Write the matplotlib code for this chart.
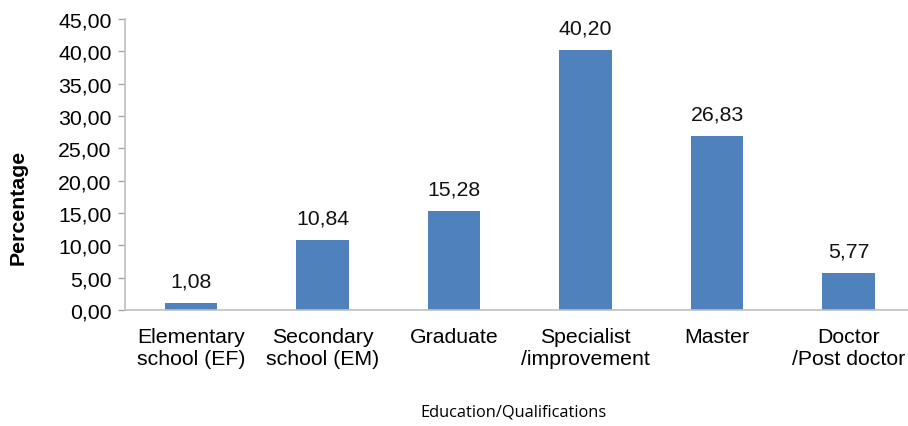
import matplotlib
matplotlib.use("Agg")
import matplotlib.pyplot as plt
from matplotlib.ticker import FuncFormatter

categories = ["Elementary\nschool (EF)", "Secondary\nschool (EM)", "Graduate",
              "Specialist\n/improvement", "Master", "Doctor\n/Post doctor"]
values = [1.08, 10.84, 15.28, 40.20, 26.83, 5.77]
yticks = [0, 5, 10, 15, 20, 25, 30, 35, 40, 45]

plt.rcParams['font.family'] = ['Liberation Sans', 'DejaVu Sans']
fs = 15.3
fig = plt.figure(figsize=(9.08, 4.27), dpi=100)
ax = fig.add_axes([0.138, 0.2717, 0.869, 0.6815])

x = list(range(len(categories)))
bars = ax.bar(x, values, width=0.4, color='#4f81bd', zorder=2)
for xi, v in zip(x, values):
    ax.annotate(f"{v:.2f}".replace('.', ','), (xi, v), xytext=(0, 9),
                textcoords='offset points', ha='center', va='bottom', fontsize=fs, color='#111111')

ax.set_xlim(-0.5, len(categories) - 0.5)
ax.set_ylim(0, 45)
ax.set_yticks(yticks)
ax.yaxis.set_major_formatter(FuncFormatter(lambda v, p: f"{v:.2f}".replace('.', ',')))
ax.set_xticks(x)
ax.set_xticklabels(categories, fontsize=fs, linespacing=1.16)
ax.tick_params(axis='y', labelsize=fs, length=5, color='#a6a6a6', width=1, pad=5)
ax.tick_params(axis='x', length=0, pad=12.5)
for s in ['top', 'right']:
    ax.spines[s].set_visible(False)
for s in ['left', 'bottom']:
    ax.spines[s].set_color('#bfbfbf')
    ax.spines[s].set_linewidth(1.2)

fig.text(18 / 908, 1 - 207 / 427, "Percentage", rotation=90, ha='center', va='center',
         fontsize=fs, fontweight='bold')
fig.text(513 / 908, 1 - 413 / 427, "Education/Qualifications", ha='center', va='center',
         fontsize=11.8, family=['Open Sans', 'DejaVu Sans'])

fig.savefig("out.png", dpi=100)
